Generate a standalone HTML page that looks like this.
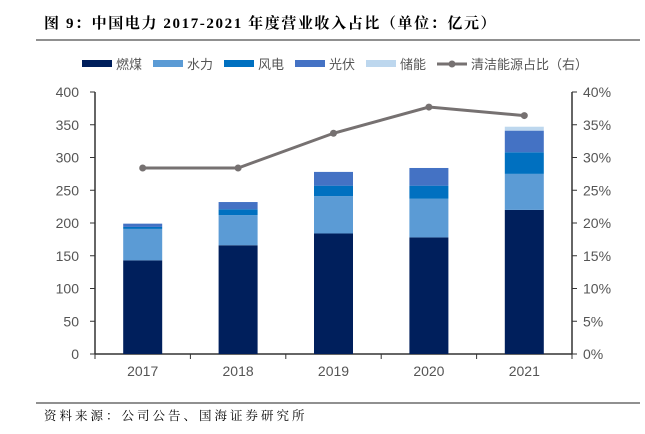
<!DOCTYPE html>
<html><head><meta charset="utf-8"><style>
html,body{margin:0;padding:0;background:#fff;}
body{width:645px;height:429px;overflow:hidden;position:relative;font-family:"Liberation Sans","Noto Sans CJK SC",sans-serif;}
</style></head><body>
<svg width="645" height="429" xmlns="http://www.w3.org/2000/svg">
<text x="44" y="28" font-size="15" font-weight="bold" fill="#000" letter-spacing="1.6" font-family="'Liberation Serif','Noto Serif CJK SC',serif">图 9：中国电力 2017-2021 年度营业收入占比（单位：亿元）</text>
<line x1="36" y1="40" x2="640" y2="40" stroke="#222" stroke-width="1"/>
<g id="legend"></g>
<g id="axes"></g>
<g id="bars"></g>
<g id="line"></g>
<line x1="36" y1="403" x2="640" y2="403" stroke="#222" stroke-width="1"/>
<text x="44" y="420" font-size="12.5" fill="#000" letter-spacing="3" font-family="'Liberation Serif','Noto Serif CJK SC',serif">资料来源：公司公告、国海证券研究所</text>
</svg>
<script>
const categories=["2017","2018","2019","2020","2021"];
const coal=[143,166,184,178,220];
const hydro=[48,46,57,59,55];
const wind=[3,9,16,20,33];
const solar=[5,11,21,27,33];
const storage=[0,0,0,0,6];
const cleanShare=[28.4,28.4,33.7,37.7,36.4];
const leftTicks=[0,50,100,150,200,250,300,350,400];
const rightTicks=[0,5,10,15,20,25,30,35,40];
const seriesNames=["燃煤","水力","风电","光伏","储能"];
const colors=["#001f5c","#5b9bd5","#0070c0","#4472c4","#bdd7ee"];
const NS="http://www.w3.org/2000/svg";
const X0=95,X1=572,Y0=354,Y1=92;
const yL=v=>Y0-(v/400)*(Y0-Y1);
const yR=v=>Y0-(v/40)*(Y0-Y1);
const band=(X1-X0)/categories.length;
const xc=i=>X0+band*(i+0.5);
function mk(tag,attrs,parent,text){const e=document.createElementNS(NS,tag);for(const k in attrs)e.setAttribute(k,attrs[k]);if(text!==undefined)e.textContent=text;document.getElementById(parent).appendChild(e);return e;}
let e;
e=mk('line',{x1:X0,y1:Y1,x2:X0,y2:Y0,stroke:'#333','stroke-width':1.5},'axes');


e=mk('line',{x1:X1,y1:Y1,x2:X1,y2:Y0,stroke:'#333','stroke-width':1.5},'axes');


e=mk('line',{x1:X0,y1:Y0,x2:X1,y2:Y0,stroke:'#333','stroke-width':1.5},'axes');


leftTicks.forEach(t=>{mk('line',{x1:X0-5,y1:yL(t),x2:X0,y2:yL(t),stroke:'#333'},'axes');
e=mk('text',{x:X0-16,y:yL(t)+5,'text-anchor':'end','font-size':14,fill:'#555'},'axes',String(t));

});
rightTicks.forEach(t=>{mk('line',{x1:X1,y1:yR(t),x2:X1+5,y2:yR(t),stroke:'#333'},'axes');
e=mk('text',{x:X1+11,y:yR(t)+5,'font-size':14,fill:'#555'},'axes',t+'%');

});
for(let i=0;i<=categories.length;i++)mk('line',{x1:X0+band*i,y1:Y0,x2:X0+band*i,y2:Y0+5,stroke:'#333'},'axes');
categories.forEach((c,i)=>{e=mk('text',{x:xc(i),y:Y0+22,'text-anchor':'middle','font-size':14,fill:'#555'},'axes',c);

});
const series=[coal,hydro,wind,solar,storage];
const bw=39;
categories.forEach((c,i)=>{let base=0;series.forEach((s,k)=>{if(s[i]<=0)return;const top=base+s[i];
const r=mk('rect',{x:xc(i)-bw/2,y:yL(top),width:bw,height:yL(base)-yL(top),fill:colors[k]},'bars');


base=top;});});
const pts=cleanShare.map((v,i)=>xc(i)+','+yR(v)).join(' ');
e=mk('polyline',{points:pts,fill:'none',stroke:'#767171','stroke-width':3},'line');


cleanShare.forEach((v,i)=>{const p=mk('circle',{cx:xc(i),cy:yR(v),r:3.5,fill:'#767171'},'line');

});
let lx=82;const ly=64;
seriesNames.forEach((n,k)=>{mk('rect',{x:lx,y:ly-4,width:30,height:7,fill:colors[k]},'legend');
const t=mk('text',{x:lx+34,y:ly+5,'font-size':13,fill:'#555'},'legend',n);


lx+=71;});
mk('line',{x1:lx,y1:ly,x2:lx+30,y2:ly,stroke:'#767171','stroke-width':3},'legend');
mk('circle',{cx:lx+15,cy:ly,r:3.5,fill:'#767171'},'legend');
e=mk('text',{x:lx+34,y:ly+5,'font-size':13,fill:'#555'},'legend','清洁能源占比（右）');


</script>
</body></html>
